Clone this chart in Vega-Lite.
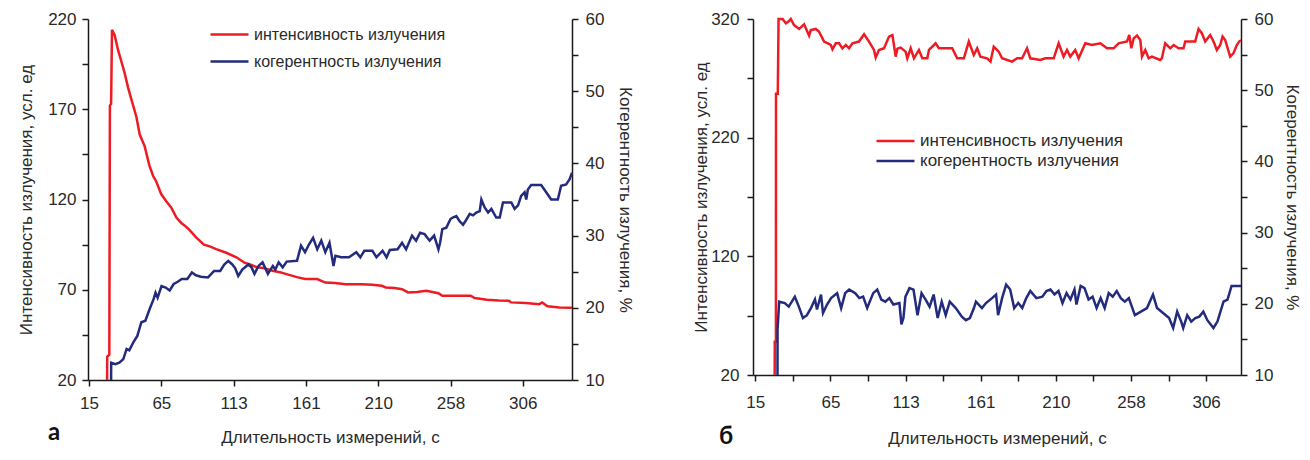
{
  "$schema": "https://vega.github.io/schema/vega-lite/v6.json",
  "background": "white",
  "padding": {"left": 17, "top": 10, "right": 5, "bottom": 5},
  "spacing": 58,
  "config": {
    "view": {"stroke": null},
    "font": "Liberation Sans",
    "axis": {
      "grid": false,
      "domainColor": "#1a1a1a", "domainWidth": 1.5,
      "tickColor": "#1a1a1a", "tickWidth": 1.5, "tickSize": 6,
      "labelFont": "Liberation Sans", "labelFontSize": 17, "labelColor": "#2a2a2a",
      "titleFont": "Liberation Sans", "titleFontSize": 17, "titleFontWeight": "normal", "titleColor": "#2a2a2a",
      "labelFlush": false, "labelOverlap": false, "labelPadding": 6
    },
    "legend": {
      "orient": "none", "title": null, "symbolType": "stroke", "symbolSize": 1444, "symbolStrokeWidth": 2.5,
      "labelFont": "Liberation Sans", "labelFontSize": 16, "labelColor": "#2a2a2a", "labelOffset": 4, "padding": 0, "labelLimit": 0
    }
  },
  "datasets": {
    "a_int": [
      {"t":27.1,"v":20},{"t":27.2,"v":33},{"t":28.6,"v":34},{"t":29.0,"v":172},{"t":29.8,"v":173},{"t":30.4,"v":214},{"t":32.2,"v":211},{"t":34.4,"v":203},{"t":36.5,"v":197},{"t":38.9,"v":190},{"t":41.2,"v":182},{"t":43.4,"v":175.5},{"t":46.7,"v":166},{"t":49,"v":156},{"t":52.3,"v":149.5},{"t":55.6,"v":138.5},{"t":58,"v":133},{"t":60.1,"v":130},{"t":63.4,"v":123},{"t":66.8,"v":119},{"t":70.2,"v":115.5},{"t":73.6,"v":110},{"t":76.9,"v":107},{"t":80,"v":105},{"t":82.5,"v":103},{"t":86.8,"v":99},{"t":92.1,"v":95},{"t":96,"v":94},{"t":100.3,"v":92.5},{"t":107,"v":90.5},{"t":113.8,"v":88},{"t":119.3,"v":85},{"t":123,"v":84},{"t":127.4,"v":82.5},{"t":132,"v":82},{"t":138.2,"v":80.5},{"t":143.6,"v":79.6},{"t":148,"v":78.5},{"t":154.5,"v":77},{"t":160,"v":76},{"t":168,"v":75.9},{"t":173.5,"v":74},{"t":180,"v":73.8},{"t":187,"v":73.1},{"t":197.9,"v":73.1},{"t":205,"v":72.8},{"t":211.4,"v":72.2},{"t":214.1,"v":71.3},{"t":220,"v":71},{"t":225,"v":70.3},{"t":229,"v":68.5},{"t":235,"v":68.8},{"t":241.2,"v":69.4},{"t":249.4,"v":68.1},{"t":252,"v":66.7},{"t":262,"v":66.7},{"t":271,"v":66.7},{"t":273.7,"v":65.4},{"t":281.9,"v":64.4},{"t":290,"v":64},{"t":296.7,"v":63.9},{"t":298,"v":63},{"t":308,"v":62.6},{"t":317,"v":62},{"t":319,"v":63},{"t":322.5,"v":60.8},{"t":330.6,"v":60.2},{"t":339,"v":60}
    ],
    "a_coh": [
      {"t":29.8,"c":10},{"t":29.85,"c":12.4},{"t":32.6,"c":12.2},{"t":35.3,"c":12.4},{"t":38,"c":12.9},{"t":40.2,"c":14.3},{"t":42,"c":14.1},{"t":44.7,"c":15.2},{"t":47.4,"c":16.1},{"t":50.1,"c":18},{"t":52.8,"c":18.2},{"t":55.6,"c":19.8},{"t":58.3,"c":21.2},{"t":59.6,"c":22.1},{"t":61,"c":21.4},{"t":63.6,"c":23},{"t":66.4,"c":22.8},{"t":69.1,"c":22.4},{"t":71.8,"c":23.3},{"t":74.5,"c":23.6},{"t":77.2,"c":24},{"t":80.9,"c":24},{"t":84,"c":24.9},{"t":86.7,"c":24.5},{"t":90,"c":24.3},{"t":94.8,"c":24.2},{"t":98.9,"c":25.1},{"t":103,"c":25.1},{"t":105.7,"c":26},{"t":108.4,"c":26.5},{"t":111.1,"c":26},{"t":113,"c":25.5},{"t":115.1,"c":24.4},{"t":117.8,"c":25.3},{"t":121.9,"c":26},{"t":124,"c":25.6},{"t":126,"c":24.7},{"t":128.7,"c":25.8},{"t":131.4,"c":26.3},{"t":133,"c":25.6},{"t":135,"c":24.7},{"t":138.3,"c":25.8},{"t":140,"c":25.3},{"t":142.2,"c":26.3},{"t":144.9,"c":25.6},{"t":147.6,"c":26.4},{"t":154.5,"c":26.5},{"t":157.2,"c":28.6},{"t":159.9,"c":27.7},{"t":162.6,"c":28.8},{"t":165.3,"c":29.7},{"t":168.1,"c":28.1},{"t":170.8,"c":29.3},{"t":173.5,"c":27.7},{"t":176.3,"c":29},{"t":179,"c":25.8},{"t":180.3,"c":27.2},{"t":184.1,"c":27},{"t":189.4,"c":27},{"t":194.3,"c":27.7},{"t":197,"c":27},{"t":199.7,"c":27.9},{"t":205.1,"c":27.9},{"t":207.8,"c":27},{"t":211.9,"c":27.9},{"t":214.6,"c":27},{"t":216.8,"c":28},{"t":222,"c":28.1},{"t":225,"c":29},{"t":227.7,"c":28.1},{"t":231.7,"c":30},{"t":234.4,"c":29.3},{"t":237.1,"c":30.4},{"t":240.1,"c":30.2},{"t":243.5,"c":29.3},{"t":246.5,"c":30},{"t":249.4,"c":28.1},{"t":250.5,"c":29},{"t":252,"c":30.9},{"t":254.7,"c":31.1},{"t":257.5,"c":32.3},{"t":259,"c":32.5},{"t":261.4,"c":32.7},{"t":263.6,"c":32},{"t":265.9,"c":31.5},{"t":268.1,"c":32.2},{"t":270.4,"c":33},{"t":272.6,"c":32.8},{"t":274.8,"c":33.2},{"t":277.1,"c":33.4},{"t":278.2,"c":35},{"t":280.4,"c":33.9},{"t":282.7,"c":33.2},{"t":284.9,"c":33.7},{"t":288.2,"c":32.5},{"t":290.5,"c":32.5},{"t":292.7,"c":34.6},{"t":298.3,"c":34.6},{"t":300.5,"c":33.7},{"t":302.8,"c":34.2},{"t":304.9,"c":35.5},{"t":307.2,"c":36},{"t":308.3,"c":35},{"t":309.4,"c":36.4},{"t":311.6,"c":37},{"t":318.3,"c":37},{"t":321.7,"c":36},{"t":325,"c":35},{"t":329.5,"c":35},{"t":331.7,"c":36.9},{"t":335.1,"c":37.1},{"t":337.4,"c":37.8},{"t":339,"c":38.7}
    ],
    "b_int": [
      {"t":27.5,"v":20},{"t":27.55,"v":48},{"t":28.3,"v":48},{"t":28.35,"v":257},{"t":29.5,"v":257},{"t":30,"v":320},{"t":32.6,"v":320},{"t":34.7,"v":316.4},{"t":36.8,"v":318.3},{"t":37.9,"v":320},{"t":40,"v":314.9},{"t":43.3,"v":311.6},{"t":46.5,"v":315.5},{"t":49.7,"v":306},{"t":50.8,"v":310.7},{"t":54,"v":311.6},{"t":56.1,"v":309.4},{"t":59.4,"v":301},{"t":63.7,"v":298.1},{"t":64.8,"v":294.5},{"t":66.9,"v":299.5},{"t":69.1,"v":299.5},{"t":71.2,"v":295.3},{"t":73.4,"v":298.1},{"t":75.5,"v":295.3},{"t":77.7,"v":299.5},{"t":81.9,"v":301},{"t":85.2,"v":307.1},{"t":88.4,"v":301},{"t":91.6,"v":293.9},{"t":92.7,"v":287.5},{"t":94.8,"v":293.9},{"t":98.1,"v":295.3},{"t":101.3,"v":305.2},{"t":103.5,"v":306.5},{"t":105.6,"v":288.3},{"t":106.7,"v":295},{"t":108.8,"v":295.9},{"t":112,"v":292.5},{"t":113.1,"v":286.9},{"t":115.3,"v":295.3},{"t":117.4,"v":286.9},{"t":120.6,"v":293.9},{"t":122.8,"v":286.9},{"t":126,"v":286.9},{"t":127.1,"v":293.9},{"t":131.4,"v":299.5},{"t":133.5,"v":295.3},{"t":142.1,"v":295.3},{"t":145.3,"v":286.9},{"t":149.6,"v":286.9},{"t":152.8,"v":301},{"t":156,"v":289.7},{"t":158.2,"v":295.3},{"t":160.3,"v":288.3},{"t":164.6,"v":286.9},{"t":166.8,"v":284.1},{"t":168.9,"v":296.7},{"t":170,"v":295.3},{"t":172.1,"v":292.5},{"t":174.3,"v":286.9},{"t":180.8,"v":284.1},{"t":184,"v":286.9},{"t":187.2,"v":286.9},{"t":190.4,"v":295.3},{"t":192.5,"v":286.9},{"t":199,"v":285.5},{"t":202.2,"v":286.9},{"t":207.6,"v":286.9},{"t":210.8,"v":299.5},{"t":214,"v":288.3},{"t":216.2,"v":293.9},{"t":218.3,"v":288.3},{"t":221.5,"v":293.9},{"t":223.7,"v":286.9},{"t":228,"v":299.5},{"t":232.3,"v":298.1},{"t":237.7,"v":299.5},{"t":242,"v":295.3},{"t":246.3,"v":295.3},{"t":249.5,"v":299.5},{"t":254.9,"v":301},{"t":256.4,"v":306.5},{"t":257.7,"v":295.3},{"t":259.2,"v":303.7},{"t":261.4,"v":306},{"t":263.5,"v":302.3},{"t":264.6,"v":288.3},{"t":266.7,"v":293.9},{"t":268.9,"v":286.9},{"t":271,"v":288.3},{"t":276.3,"v":285.5},{"t":277.4,"v":286.9},{"t":279.6,"v":299.5},{"t":282.8,"v":295.3},{"t":285,"v":298.1},{"t":288.2,"v":295.3},{"t":291.4,"v":295.3},{"t":292.5,"v":301},{"t":298.9,"v":301},{"t":301.1,"v":311.6},{"t":303.2,"v":308},{"t":305.4,"v":301},{"t":308.6,"v":306.5},{"t":310.8,"v":301},{"t":312.9,"v":293.9},{"t":315.1,"v":298.1},{"t":316.6,"v":305.2},{"t":318.3,"v":302.3},{"t":321.5,"v":288.3},{"t":323.6,"v":291},{"t":325.8,"v":298.1},{"t":327.3,"v":301},{"t":328.5,"v":302}
    ],
    "b_coh": [
      {"t":29.3,"c":10},{"t":29.35,"c":16.4},{"t":30.4,"c":20.3},{"t":34,"c":20.1},{"t":36.6,"c":19.6},{"t":40.5,"c":21},{"t":43.1,"c":19.6},{"t":45.7,"c":18},{"t":48.3,"c":18.4},{"t":50.9,"c":19.4},{"t":53.5,"c":20.6},{"t":54.8,"c":19.2},{"t":57.4,"c":21.3},{"t":58.7,"c":18.7},{"t":61.3,"c":19.9},{"t":63.9,"c":20.8},{"t":67.8,"c":21.5},{"t":70.4,"c":19.4},{"t":73,"c":21.5},{"t":75.6,"c":22},{"t":79.5,"c":21.5},{"t":82.1,"c":20.8},{"t":84.6,"c":21},{"t":87.2,"c":19.4},{"t":91.1,"c":21.5},{"t":93.7,"c":22},{"t":96.3,"c":20.6},{"t":98.9,"c":20.3},{"t":101.5,"c":20.8},{"t":104.1,"c":19.9},{"t":108,"c":20.1},{"t":109.3,"c":17.1},{"t":110.6,"c":18},{"t":111.9,"c":21},{"t":114.5,"c":22.2},{"t":117.1,"c":22},{"t":119.7,"c":18.4},{"t":122.3,"c":21.5},{"t":124.9,"c":20.6},{"t":127.5,"c":19.6},{"t":130.1,"c":21.3},{"t":132.7,"c":18},{"t":135.3,"c":20.3},{"t":137.9,"c":18.4},{"t":140.5,"c":20.3},{"t":144.4,"c":19.4},{"t":148.3,"c":18.2},{"t":150.9,"c":17.7},{"t":153.5,"c":18},{"t":156.1,"c":19.4},{"t":157.4,"c":20.3},{"t":161.3,"c":19.4},{"t":163.9,"c":20.1},{"t":167.8,"c":20.8},{"t":170.4,"c":21.3},{"t":171.7,"c":18.4},{"t":174.3,"c":20.8},{"t":176.9,"c":22.7},{"t":179.5,"c":22},{"t":182.1,"c":19.4},{"t":184.7,"c":20.1},{"t":187.3,"c":19.4},{"t":189.9,"c":20.8},{"t":192.5,"c":21.8},{"t":196.4,"c":20.8},{"t":200.3,"c":21},{"t":202.9,"c":21.8},{"t":205.5,"c":22},{"t":208.1,"c":21.3},{"t":210.7,"c":21.8},{"t":213.3,"c":20.1},{"t":215.9,"c":21.5},{"t":218.4,"c":20.6},{"t":221,"c":22},{"t":222.3,"c":19.9},{"t":225,"c":22.5},{"t":227.5,"c":22.2},{"t":230.1,"c":20.6},{"t":232.7,"c":21},{"t":235.3,"c":19.4},{"t":237.9,"c":20.8},{"t":240.5,"c":19.4},{"t":243.1,"c":21.5},{"t":245.7,"c":21},{"t":248.3,"c":21.8},{"t":250.9,"c":20.8},{"t":253.5,"c":20.3},{"t":256.1,"c":20.8},{"t":260,"c":18.4},{"t":263.9,"c":18.9},{"t":267.8,"c":19.4},{"t":271.7,"c":21.3},{"t":274.3,"c":19.4},{"t":278.2,"c":18.7},{"t":282.1,"c":18},{"t":284.7,"c":16.6},{"t":287.3,"c":18.9},{"t":289.9,"c":17.5},{"t":291.2,"c":16.6},{"t":293.8,"c":18.4},{"t":296.4,"c":17.5},{"t":299,"c":18},{"t":301.6,"c":18.2},{"t":304.2,"c":18.9},{"t":306.8,"c":17.7},{"t":310.7,"c":16.6},{"t":313.3,"c":17.5},{"t":317.2,"c":20.3},{"t":319.8,"c":20.6},{"t":322.4,"c":22.5},{"t":328.5,"c":22.5}
    ]
  },
  "resolve": {"scale": {"color": "independent"}, "legend": {"color": "independent"}},
  "hconcat": [
    {
      "width": 484, "height": 361,
      "title": {"text": "а", "orient": "bottom", "anchor": "start", "frame": "group", "dx": -40, "offset": -24, "font": "Lato", "fontSize": 24, "fontWeight": "bold", "color": "#111111"},
      "resolve": {"scale": {"y": "independent"}},
      "layer": [
        {
          "data": {"name": "a_int"},
          "mark": {"type": "line", "strokeWidth": 2.5},
          "encoding": {
            "x": {"field": "t", "type": "quantitative", "scale": {"domain": [14.3, 339], "nice": false, "zero": false},
              "axis": {"title": "Длительность измерений, с", "values": [15,39.25,63.5,87.75,112,136.25,160.5,184.75,209,233.25,257.5,281.75,306,330.25],
                "labelExpr": "indexof([15,63.5,112,160.5,209,257.5,306], datum.value) >= 0 ? ['15','65','113','161','210','258','306'][indexof([15,63.5,112,160.5,209,257.5,306], datum.value)] : ''",
                "labelPadding": 9, "titlePadding": 18}},
            "y": {"field": "v", "type": "quantitative", "scale": {"domain": [20, 220], "nice": false, "zero": false},
              "axis": {"title": "Интенсивность излучения, усл. ед", "values": [20,45,70,95,120,145,170,195,220],
                "labelExpr": "(datum.value - 20) % 50 == 0 ? datum.label : ''", "titlePadding": 12}},
            "color": {"datum": "интенсивность излучения",
              "scale": {"domain": ["интенсивность излучения", "когерентность излучения"], "range": ["#ed1c24", "#232b7d"]},
              "legend": {"legendX": 121, "legendY": 2, "rowPadding": 0, "clipHeight": 27}}
          }
        },
        {
          "data": {"name": "a_coh"},
          "mark": {"type": "line", "strokeWidth": 2.5},
          "encoding": {
            "x": {"field": "t", "type": "quantitative"},
            "y": {"field": "c", "type": "quantitative", "scale": {"domain": [10, 60], "nice": false, "zero": false},
              "axis": {"orient": "right", "title": "Когерентность излучения, %", "values": [10,15,20,25,30,35,40,45,50,55,60],
                "labelExpr": "datum.value % 10 == 0 ? datum.label : ''", "labelPadding": 7, "titlePadding": 12}},
            "color": {"datum": "когерентность излучения"}
          }
        }
      ]
    },
    {
      "width": 488, "height": 356,
      "title": {"text": "б", "orient": "bottom", "anchor": "start", "frame": "group", "dx": -34, "offset": -21, "font": "Lato", "fontSize": 24, "fontWeight": "bold", "color": "#111111"},
      "resolve": {"scale": {"y": "independent"}},
      "layer": [
        {
          "data": {"name": "b_int"},
          "mark": {"type": "line", "strokeWidth": 2.5},
          "encoding": {
            "x": {"field": "t", "type": "quantitative", "scale": {"domain": [13.5, 328.5], "nice": false, "zero": false},
              "axis": {"title": "Длительность измерений, с", "values": [15,39.25,63.5,87.75,112,136.25,160.5,184.75,209,233.25,257.5,281.75,306],
                "labelExpr": "indexof([15,63.5,112,160.5,209,257.5,306], datum.value) >= 0 ? ['15','65','113','161','210','258','306'][indexof([15,63.5,112,160.5,209,257.5,306], datum.value)] : ''",
                "labelPadding": 13, "titlePadding": 20}},
            "y": {"field": "v", "type": "quantitative", "scale": {"domain": [20, 320], "nice": false, "zero": false},
              "axis": {"title": "Интенсивность излучения, усл. ед", "values": [20,70,120,170,220,270,320],
                "labelExpr": "(datum.value - 20) % 100 == 0 ? datum.label : ''", "titlePadding": 0, "labelPadding": 8}},
            "color": {"datum": "интенсивность излучения",
              "scale": {"domain": ["интенсивность излучения", "когерентность излучения"], "range": ["#ed1c24", "#232b7d"]},
              "legend": {"legendX": 122, "legendY": 112, "rowPadding": 0, "clipHeight": 20, "labelFontSize": 17}}
          }
        },
        {
          "data": {"name": "b_coh"},
          "mark": {"type": "line", "strokeWidth": 2.5},
          "encoding": {
            "x": {"field": "t", "type": "quantitative"},
            "y": {"field": "c", "type": "quantitative", "scale": {"domain": [10, 60], "nice": false, "zero": false},
              "axis": {"orient": "right", "title": "Когерентность излучения, %", "values": [10,15,20,25,30,35,40,45,50,55,60],
                "labelExpr": "datum.value % 10 == 0 ? datum.label : ''", "labelPadding": 7, "titlePadding": 10}},
            "color": {"datum": "когерентность излучения"}
          }
        }
      ]
    }
  ]
}
